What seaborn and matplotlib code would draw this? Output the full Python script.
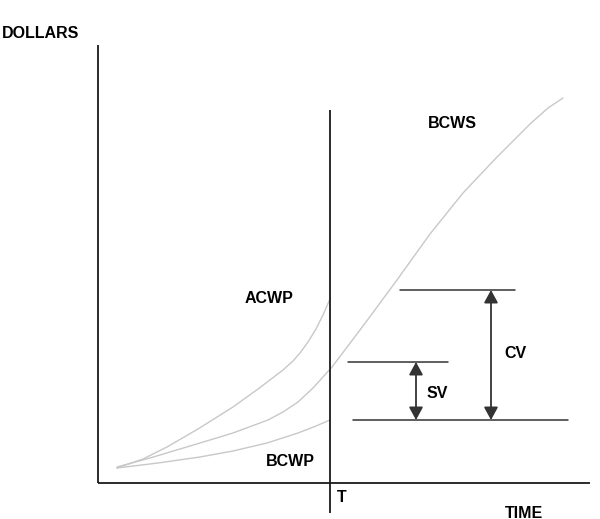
import matplotlib
matplotlib.use("Agg")
import matplotlib.pyplot as plt
import seaborn as sns
import pandas as pd

sns.set_theme(style="white")
plt.rcParams['font.family'] = ['Liberation Sans', 'DejaVu Sans']

# Curves (time units from origin, dollars from origin)
bcws_time = [19, 52, 102, 135, 170, 185, 200, 215, 234, 265, 299, 332, 365, 399, 416, 432, 450, 465]
bcws_dollars = [16, 25, 40, 50, 63, 71, 81, 95, 116, 157, 203, 249, 290, 326, 343, 359, 375, 385]
acwp_time = [19, 45, 69, 100, 135, 160, 185, 195, 202, 210, 218, 225, 232]
acwp_dollars = [15, 24, 36, 54, 76, 94, 113, 122, 130, 141, 154, 168, 184]
bcwp_time = [19, 60, 102, 135, 169, 200, 218, 232]
bcwp_dollars = [15, 20, 26, 32, 40, 50, 57, 63]

status_time = 232          # T
cv_top, sv_top, base = 193, 121, 63
labels = ["BCWS", "ACWP", "BCWP"]

fig = plt.figure(figsize=(6.0, 5.19), dpi=100)
ax = fig.add_axes([0, 0, 1, 1])
ax.set_xlim(-98, 502)
ax.set_ylim(-36, 483)
ax.axis("off")

curve_color = "#c8c8c8"
df = pd.concat([
    pd.DataFrame({"t": bcws_time, "d": bcws_dollars, "s": "BCWS"}),
    pd.DataFrame({"t": acwp_time, "d": acwp_dollars, "s": "ACWP"}),
    pd.DataFrame({"t": bcwp_time, "d": bcwp_dollars, "s": "BCWP"}),
])
sns.lineplot(data=df, x="t", y="d", hue="s", palette={k: curve_color for k in labels},
             sort=False, estimator=None, legend=False, lw=1.0, ax=ax)

dark = "#1a1a1a"
# axes
ax.plot([0, 0], [438, 0], color=dark, lw=1.3, solid_capstyle="butt")
ax.plot([0, 492], [0, 0], color=dark, lw=1.3, solid_capstyle="butt")
# status line T
ax.plot([status_time, status_time], [373, -30], color=dark, lw=1.3, solid_capstyle="butt")

line_c = "#333333"
ax.plot([302, 417], [cv_top, cv_top], color=line_c, lw=1.1)
ax.plot([250, 350], [sv_top, sv_top], color=line_c, lw=1.1)
ax.plot([255, 470], [base, base], color=line_c, lw=1.1)

arrow = dict(arrowstyle="<|-|>,head_length=0.55,head_width=0.3", color=line_c, lw=1.3,
             mutation_scale=14, shrinkA=0, shrinkB=0)
ax.annotate("", xy=(393, cv_top), xytext=(393, base), arrowprops=arrow)
ax.annotate("", xy=(318, sv_top), xytext=(318, base), arrowprops=arrow)

fs = 11.5
tk = dict(fontsize=fs, fontweight="bold", color="black", va="center")
ax.text(-96, 449.5, "DOLLARS", ha="left", **tk)
ax.text(147, 184.5, "ACWP", ha="left", **tk)
ax.text(330, 360, "BCWS", ha="left", **tk)
ax.text(168, 21, "BCWP", ha="left", **tk)
ax.text(239, -14.5, "T", ha="left", **tk)
ax.text(407, -30, "TIME", ha="left", **tk)
ax.text(329, 90, "SV", ha="left", **tk)
ax.text(406, 129.5, "CV", ha="left", **tk)

fig.savefig("out.png", dpi=100)
